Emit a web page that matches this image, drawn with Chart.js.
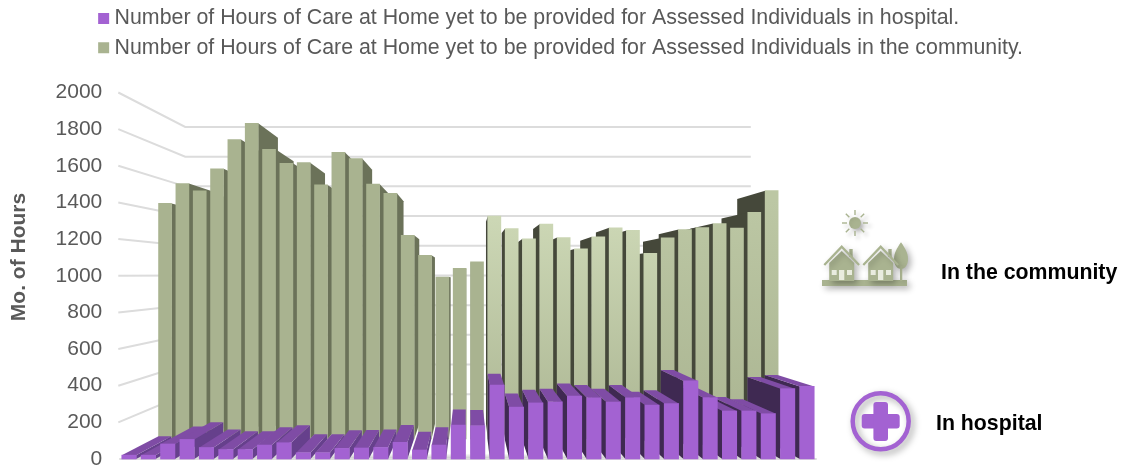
<!DOCTYPE html>
<html>
<head>
<meta charset="utf-8">
<style>html,body{margin:0;padding:0;background:#fff}canvas{display:block}</style>
<script src="https://cdn.jsdelivr.net/npm/chart.js@4/dist/chart.umd.min.js"></script>
</head>
<body>
<canvas id="c" width="1128" height="469"></canvas>
<script>
const positions = [0,1,2,3,4,5,6,7,8,9,10,11,12,13,14,15,16,17,18,19,20,21,22,23,24,25,26,27,28,29,30,31,32,33,34,35];
const yTicks = [0,200,400,600,800,1000,1200,1400,1600,1800,2000];
const hospitalHours = [21,21,82,107,63,52,52,76,89,34,34,58,60,63,91,49,76,185,182,403,283,306,312,343,335,312,335,294,303,426,335,262,262,248,384,396];
const communityHours = [1440,1562,1517,1652,1830,1930,1771,1685,1689,1553,1753,1714,1559,1502,1245,1123,990,1043,1083,1363,1287,1224,1314,1232,1162,1236,1291,1275,1135,1229,1280,1292,1317,1289,1385,1518];
const hospitalLabel = 'Number of Hours of Care at Home yet to be provided for Assessed Individuals in hospital.';
const communityLabel = 'Number of Hours of Care at Home yet to be provided for Assessed Individuals in the community.';
const axisTitle = 'Mo. of Hours';

const PURPLE='#a362d2', GREEN='#a9b390', FONT='"Liberation Sans", Arial, sans-serif', GREY='#595959';
const VP={x:468,y:278};
const WALL=0.811, PURPLE_DEPTH=0.106, GREEN_DEPTH=0.094;
const backPt=(x,y,t)=>[x+(VP.x-x)*t,y+(VP.y-y)*t];
function poly(ctx,pts,fill){ctx.beginPath();pts.forEach((p,i)=>i?ctx.lineTo(p[0],p[1]):ctx.moveTo(p[0],p[1]));ctx.closePath();ctx.fillStyle=fill;ctx.fill();}

const walls={id:'walls',
  beforeLayout(chart){
    const lg=chart.legend;
    if(lg&&!lg._wrapped){const f=lg.fit;lg.fit=function(){f.call(this);this.height=92.5;};lg._wrapped=true;}
  },
  afterLayout(chart){ const lg=chart.legend; if(lg){lg.left=95.6;lg.right=1128;lg.width=1032.4;} },
  beforeDatasetsDraw(chart){
    const {ctx,chartArea:a,scales:{y,yBack}}=chart;
    ctx.save();
    const bl=[a.left,y.getPixelForValue(0)], br=[a.right,y.getPixelForValue(0)];
    const backY=yBack.getPixelForValue(0);
    const xl=VP.x+(a.left-VP.x)*WALL, xr=VP.x+(a.right-VP.x)*WALL;
    const g=ctx.createLinearGradient(0,backY,0,bl[1]);
    g.addColorStop(0,'#ffffff');g.addColorStop(0.84,'#ffffff');g.addColorStop(1,'#c4c4c4');
    poly(ctx,[bl,br,[xr,backY],[xl,backY]],g);
    ctx.strokeStyle='#dcdcdc';ctx.lineWidth=2;
    yTicks.forEach(v=>{
      ctx.beginPath();
      if(v===0){ctx.moveTo(bl[0],bl[1]);ctx.lineTo(br[0],br[1]);}
      else{ctx.moveTo(a.left-1,y.getPixelForValue(v));ctx.lineTo(xl,yBack.getPixelForValue(v));ctx.lineTo(xr,yBack.getPixelForValue(v));}
      ctx.stroke();
    });
    ctx.restore();
  },
  beforeDatasetDraw(chart,args){
    const ctx=chart.ctx, isP=args.index===0, t=isP?PURPLE_DEPTH:GREEN_DEPTH;
    const els=args.meta.data.slice().sort((p,q)=>Math.abs(q.x-VP.x)-Math.abs(p.x-VP.x));
    els.forEach(el=>{
      const w=el.width/2,l=el.x-w,r=el.x+w,top=Math.min(el.y,el.base),bot=Math.max(el.y,el.base);
      const leftHalf=el.x<VP.x, ex=leftHalf?r:l;
      const side=isP?(leftHalf?'#66408c':'#3f2952'):(leftHalf?'#6b7259':'#45483a');
      poly(ctx,[[ex,top],backPt(ex,top,t),backPt(ex,bot,t),[ex,bot]],side);
      if(top>VP.y) poly(ctx,[[l,top],[r,top],backPt(r,top,t),backPt(l,top,t)],isP?'#7f4ca5':'#8a9375');
      el.draw(ctx);
    });
    return false;
  },
  afterDraw(chart){
    const ctx=chart.ctx;
    ctx.save();
    // axis title
    ctx.save();ctx.translate(19,257);ctx.rotate(-Math.PI/2);
    ctx.font='bold 21px '+FONT;ctx.fillStyle=GREY;ctx.textAlign='center';ctx.textBaseline='middle';
    ctx.fillText(axisTitle,0,0);ctx.restore();
    // side notes
    ctx.font='bold 21.3px '+FONT;ctx.fillStyle='#000';ctx.textAlign='left';ctx.textBaseline='middle';
    ctx.fillText('In the community',941,273);
    ctx.fillText('In hospital',936,424);
    // houses icon
    const shadow=(a,b)=>{ctx.shadowColor='rgba(0,0,0,'+a+')';ctx.shadowBlur=b;ctx.shadowOffsetX=3;ctx.shadowOffsetY=3;};
    shadow(.3,6);
    ctx.fillStyle=GREEN;ctx.strokeStyle=GREEN;
    ctx.fillRect(822,280,85,6);
    ctx.beginPath();ctx.moveTo(901,242.3);ctx.bezierCurveTo(905,248,908,253,908,259);ctx.bezierCurveTo(908,265,905,269,901,269);ctx.bezierCurveTo(897,269,894,265,894,259);ctx.bezierCurveTo(894,253,897,248,901,242.3);ctx.fill();
    ctx.fillRect(900,266,2.3,15);
    [841.7,880.7].forEach(cx=>{
      shadow(.3,6);
      ctx.fillStyle=GREEN;
      ctx.fillRect(cx+7.6,249,3.4,8);
      poly(ctx,[[cx-12.5,263],[cx,251],[cx+12.5,263],[cx+12.5,281],[cx-12.5,281]],GREEN);
      ctx.lineWidth=2.3;ctx.beginPath();ctx.moveTo(cx-17.4,265);ctx.lineTo(cx,246.7);ctx.lineTo(cx+17.4,265);ctx.stroke();
      ctx.shadowColor='transparent';
      ctx.fillStyle='#e9ecdf';
      ctx.fillRect(cx-10,270,5,5);ctx.fillRect(cx-2.7,270,5.3,10);ctx.fillRect(cx+5.3,270,5,5);
    });
    // sun
    shadow(.3,4);
    ctx.fillStyle=GREEN;
    ctx.beginPath();ctx.arc(855,223,6,0,Math.PI*2);ctx.fill();
    ctx.lineWidth=1.4;ctx.lineCap='butt';
    for(let k=0;k<8;k++){const c=Math.cos(k*Math.PI/4),s=Math.sin(k*Math.PI/4);
      ctx.beginPath();ctx.moveTo(855+c*8,223+s*8);ctx.lineTo(855+c*13,223+s*13);ctx.stroke();}
    // hospital icon
    shadow(.35,7);
    ctx.strokeStyle=PURPLE;ctx.lineWidth=4.5;
    ctx.beginPath();ctx.arc(880.7,421.3,28,0,Math.PI*2);ctx.stroke();
    ctx.shadowColor='transparent';
    ctx.fillStyle=PURPLE;
    ctx.beginPath();ctx.roundRect(861.7,414,38,14.6,3);ctx.fill();
    ctx.beginPath();ctx.roundRect(873.4,402,14.6,39,3);ctx.fill();
    ctx.restore();
  }
};

function greenFill(c){
  const i=c.dataIndex, area=c.chart.chartArea;
  if(i===undefined||!area||i<19) return GREEN;
  const g=c.chart.ctx.createLinearGradient(0,200,0,area.bottom);
  g.addColorStop(0,i<29?'#cfdab8':'#bcc7a4');g.addColorStop(1,GREEN);
  return g;
}
const noPad=s=>{s.paddingTop=s.paddingBottom=s.paddingLeft=s.paddingRight=0;};
const noHeight=s=>{s.height=0;noPad(s);};

new Chart(document.getElementById('c'),{
  type:'bar',
  data:{datasets:[
    {label:hospitalLabel,data:positions.map(i=>({x:i,y:hospitalHours[i]})),backgroundColor:PURPLE,xAxisID:'x',yAxisID:'y',barThickness:14.4,grouped:false},
    {label:communityLabel,data:positions.map(i=>({x:i,y:communityHours[i]})),backgroundColor:greenFill,xAxisID:'xMid',yAxisID:'yMid',barThickness:13,grouped:false}
  ]},
  options:{
    responsive:false,animation:false,events:[],
    layout:{padding:{left:0,right:311.3,top:0,bottom:10}},
    plugins:{
      tooltip:{enabled:false},
      legend:{position:'top',align:'start',
        labels:{font:{family:FONT,size:21.35},color:GREY,padding:7.8,boxWidth:0.5,boxHeight:0.5,
          generateLabels:()=>[
            {text:hospitalLabel,fillStyle:PURPLE,strokeStyle:PURPLE,lineWidth:10.5,hidden:false,datasetIndex:0,fontColor:GREY},
            {text:communityLabel,fillStyle:GREEN,strokeStyle:GREEN,lineWidth:10.5,hidden:false,datasetIndex:1,fontColor:GREY}
          ]}}
    },
    scales:{
      x:{type:'linear',display:false,offset:false,min:-0.5,max:35.5,grid:{display:false},afterFit:noHeight},
      xMid:{type:'linear',display:false,offset:false,min:-2.64,max:37.6,grid:{display:false},afterFit:noHeight},
      y:{position:'left',min:0,max:2000,
        afterFit(s){s.width=119.3;noPad(s);},
        grid:{display:false,drawTicks:false},border:{display:false},
        ticks:{stepSize:200,padding:17,color:GREY,font:{family:FONT,size:21},callback:v=>String(v)}},
      yMid:{display:false,position:'left',min:-122,max:2118,grid:{display:false},afterFit:noPad},
      yBack:{display:false,position:'left',min:-236,max:2232,grid:{display:false},afterFit:noPad}
    }
  },
  plugins:[walls]
});
</script>
</body>
</html>
